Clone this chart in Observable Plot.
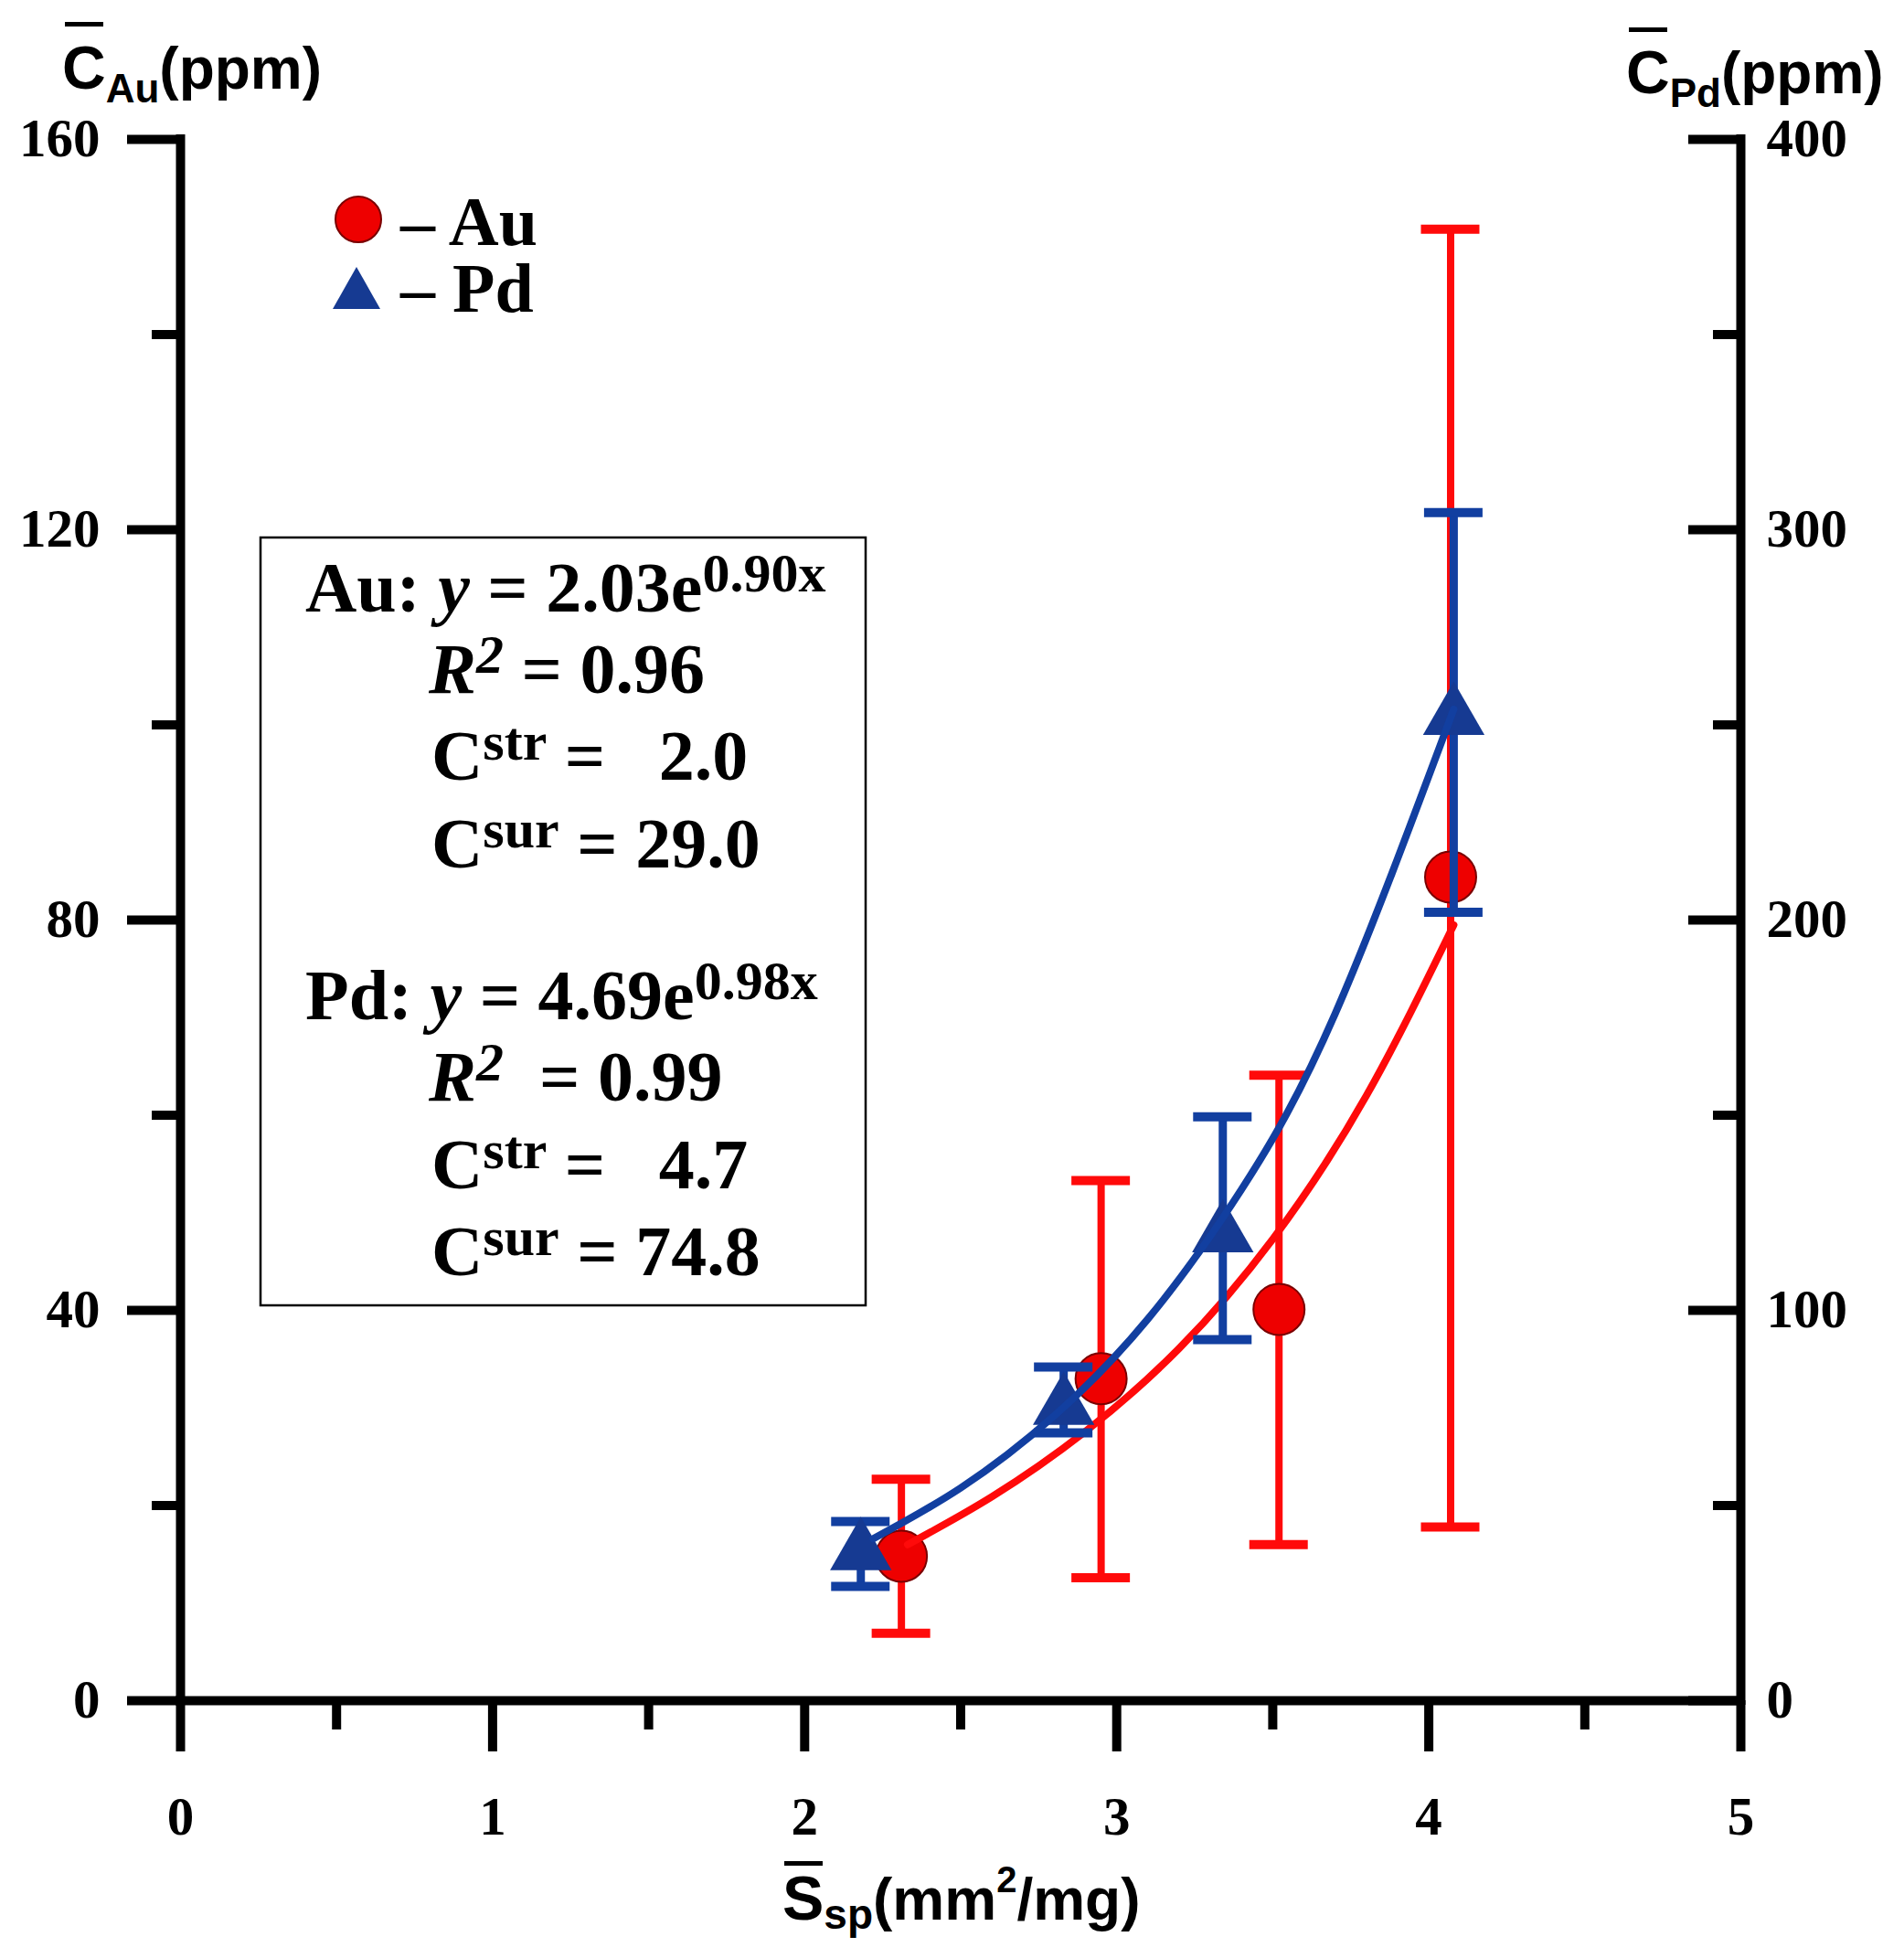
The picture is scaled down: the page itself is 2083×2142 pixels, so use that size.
<!DOCTYPE html>
<html>
<head>
<meta charset="utf-8">
<script src="https://cdn.jsdelivr.net/npm/d3@7"></script>
<script src="https://cdn.jsdelivr.net/npm/@observablehq/plot@0.6"></script>
<style>
  body { margin: 0; background: #fff; }
  #chart { width: 2083px; height: 2142px; }
</style>
</head>
<body>
<div id="chart"></div>
<script>
// ---- data ----
const auX    = [2.31, 2.95, 3.52, 4.07];
const auMean = [14.8, 33.0, 40.1, 84.4];
const auLow  = [6.9, 12.6, 16.0, 17.8];
const auHigh = [22.7, 53.3, 64.1, 150.8];

const pdX    = [2.18, 2.83, 3.34, 4.08];
const pdMean = [38.0, 75.2, 119.4, 252.0];
const pdLow  = [29.3, 68.6, 92.5, 202.0];
const pdHigh = [45.9, 85.5, 149.6, 304.4];

// fitted curves
const auFitX = [2.33, 2.60, 2.90, 3.20, 3.50, 3.80, 4.08];
const auFitY = [16.0, 20.9, 27.6, 36.1, 47.3, 62.0, 79.5];
const pdFitX = [2.22, 2.50, 2.80, 3.10, 3.40, 3.70, 4.08];
const pdFitY = [41.5, 54.5, 73.0, 97.8, 131.0, 176.0, 254.0];

// ticks
const xTicks  = [0, 1, 2, 3, 4, 5];
const xMinor  = [0.5, 1.5, 2.5, 3.5, 4.5];
const auTicks = [0, 40, 80, 120, 160];
const auMinor = [20, 60, 100, 140];
const pdTicks = [0, 100, 200, 300, 400];

// ---- derived tables ----
const k = auTicks[auTicks.length - 1] / pdTicks[pdTicks.length - 1]; // Pd -> left axis units
const au = auX.map((x, i) => ({x, y: auMean[i], lo: auLow[i], hi: auHigh[i]}));
const pd = pdX.map((x, i) => ({x, y: pdMean[i] * k, lo: pdLow[i] * k, hi: pdHigh[i] * k}));
const auFit = auFitX.map((x, i) => ({x, y: auFitY[i]}));
const pdFit = pdFitX.map((x, i) => ({x, y: pdFitY[i] * k}));

const RED = "#ff0a0a", REDDOT = "#ee0000", BLUE = "#123fa0", BLUEDOT = "#163a92";
const SERIF = "Liberation Serif, Times New Roman, serif";
const SANS = "Liberation Sans, Arial, sans-serif";
const AXW = 10;

const tickText = {fontSize: 59, fontWeight: "bold", fontFamily: SERIF, fill: "black"};

const chart = Plot.plot({
  width: 2083,
  height: 2142,
  marginLeft: 197,
  marginRight: 179,
  marginTop: 152,
  marginBottom: 282,
  style: {background: "white", color: "black", fontFamily: SERIF},
  x: {domain: [0, 5]},
  y: {domain: [0, 160]},
  marks: [
    // axes
    Plot.axisX({ticks: xTicks, tickSize: 56, strokeWidth: AXW, tickPadding: 49, label: null,
      tickFormat: d => String(d), ...tickText}),
    Plot.axisX({ticks: xMinor, tickSize: 32, strokeWidth: AXW, fill: "none", label: null}),
    Plot.axisY({ticks: auTicks, anchor: "left", tickSize: 58, strokeWidth: AXW, tickPadding: 30, label: null,
      tickFormat: d => String(d), ...tickText}),
    Plot.axisY({ticks: auMinor, anchor: "left", tickSize: 31, strokeWidth: AXW, fill: "none", label: null}),
    Plot.axisY({ticks: auTicks, anchor: "right", tickSize: 58, dx: -58, strokeWidth: AXW, fill: "none", label: null}),
    Plot.axisY({ticks: auMinor, anchor: "right", tickSize: 31, dx: -31, strokeWidth: AXW, fill: "none", label: null}),
    Plot.axisY({ticks: auTicks, anchor: "right", tickSize: 0, tickPadding: 28, label: null,
      tickFormat: d => String(Math.round(d / k)), ...tickText}),
    Plot.ruleX([0, 5], {strokeWidth: AXW, strokeLinecap: "square"}),
    Plot.ruleY([0], {strokeWidth: AXW, strokeLinecap: "square"}),

    // Au error bars and points
    Plot.ruleX(au, {x: "x", y1: "lo", y2: "hi", stroke: RED, strokeWidth: 8}),
    Plot.ruleY(au, {y: "lo", x1: "x", x2: "x", insetLeft: -32, insetRight: -32, stroke: RED, strokeWidth: 10}),
    Plot.ruleY(au, {y: "hi", x1: "x", x2: "x", insetLeft: -32, insetRight: -32, stroke: RED, strokeWidth: 10}),
    Plot.dot(au, {x: "x", y: "y", r: 28, fill: REDDOT, stroke: "#7a0000", strokeWidth: 2}),
    Plot.line(auFit, {x: "x", y: "y", curve: "natural", stroke: RED, strokeWidth: 8}),

    // Pd error bars and points
    Plot.ruleX(pd, {x: "x", y1: "lo", y2: "hi", stroke: BLUE, strokeWidth: 9}),
    Plot.ruleY(pd, {y: "lo", x1: "x", x2: "x", insetLeft: -32, insetRight: -32, stroke: BLUE, strokeWidth: 10}),
    Plot.ruleY(pd, {y: "hi", x1: "x", x2: "x", insetLeft: -32, insetRight: -32, stroke: BLUE, strokeWidth: 10}),
    Plot.dot(pd, {x: "x", y: "y", symbol: "triangle", r: 25, fill: BLUEDOT}),
    Plot.line(pdFit, {x: "x", y: "y", curve: "natural", stroke: BLUE, strokeWidth: 8})
  ]
});
document.getElementById("chart").appendChild(chart);

// ---- annotations (titles, legend, equation box) ----
const svg = d3.select(chart);
const g = svg.append("g").attr("class", "annotations").attr("text-anchor", "start");

function richText(x, y, parts, base) {
  const t = g.append("text")
    .attr("x", x).attr("y", y)
    .attr("text-anchor", "start")
    .attr("font-family", base.family)
    .attr("font-weight", "bold")
    .attr("font-size", base.size)
    .attr("fill", "black")
    .style("white-space", "pre");
  let shift = 0;
  for (const p of parts) {
    const s = t.append("tspan").text(p.t);
    if (p.x !== undefined) { s.attr("x", p.x); }
    const target = p.dy || 0;
    if (p.newline) { s.attr("dy", p.newline); }
    else if (target !== shift) { s.attr("dy", target - shift); shift = target; }
    if (p.size) s.attr("font-size", p.size);
    if (p.italic) s.attr("font-style", "italic");
  }
  return t;
}

// axis titles
const titleBase = {family: SANS, size: 66};
richText(68, 97, [{t: "C"}, {t: "Au", size: 44, dy: 15}, {t: "(ppm)", size: 64}], titleBase);
g.append("rect").attr("x", 71).attr("y", 24).attr("width", 42).attr("height", 5).attr("fill", "black");
richText(1779, 102, [{t: "C"}, {t: "Pd", size: 44, dy: 15}, {t: "(ppm)", size: 64}], titleBase);
g.append("rect").attr("x", 1782).attr("y", 30).attr("width", 42).attr("height", 5).attr("fill", "black");
richText(856, 2100, [{t: "S"}, {t: "sp", size: 46, dy: 10}, {t: "(mm", size: 64}, {t: "2", size: 40, dy: -30}, {t: "/mg)", size: 64}], {family: SANS, size: 68});
g.append("rect").attr("x", 858).attr("y", 2036).attr("width", 42).attr("height", 5).attr("fill", "black");

// legend
g.append("circle").attr("cx", 392).attr("cy", 240).attr("r", 25)
  .attr("fill", REDDOT).attr("stroke", "#7a0000").attr("stroke-width", 2);
g.append("path").attr("d", "M364,338L416,338L390,292Z").attr("fill", BLUEDOT);
richText(438, 268, [{t: "\u2013 Au"}, {t: "\u2013 Pd", x: 438, newline: 73}], {family: SERIF, size: 76});

// equation box
g.append("rect").attr("x", 285).attr("y", 588).attr("width", 662).attr("height", 840)
  .attr("fill", "white").attr("stroke", "black").attr("stroke-width", 2.5);
const eqBase = {family: SERIF, size: 78};
const SUP = 60, UP = -22;
richText(334, 669, [{t: "Au: "}, {t: "y", italic: true}, {t: " = 2.03e"}, {t: "0.90x", size: SUP, dy: UP}], eqBase);
richText(469, 758, [{t: "R", italic: true}, {t: "2", italic: true, size: SUP, dy: UP}, {t: " = 0.96"}], eqBase);
richText(472, 853, [{t: "C"}, {t: "str", size: SUP, dy: UP}, {t: " =   2.0"}], eqBase);
richText(472, 949, [{t: "C"}, {t: "sur", size: SUP, dy: UP}, {t: " = 29.0"}], eqBase);
richText(334, 1115, [{t: "Pd: "}, {t: "y", italic: true}, {t: " = 4.69e"}, {t: "0.98x", size: SUP, dy: UP}], eqBase);
richText(469, 1204, [{t: "R", italic: true}, {t: "2", italic: true, size: SUP, dy: UP}, {t: "  = 0.99"}], eqBase);
richText(472, 1300, [{t: "C"}, {t: "str", size: SUP, dy: UP}, {t: " =   4.7"}], eqBase);
richText(472, 1395, [{t: "C"}, {t: "sur", size: SUP, dy: UP}, {t: " = 74.8"}], eqBase);
</script>
</body>
</html>
